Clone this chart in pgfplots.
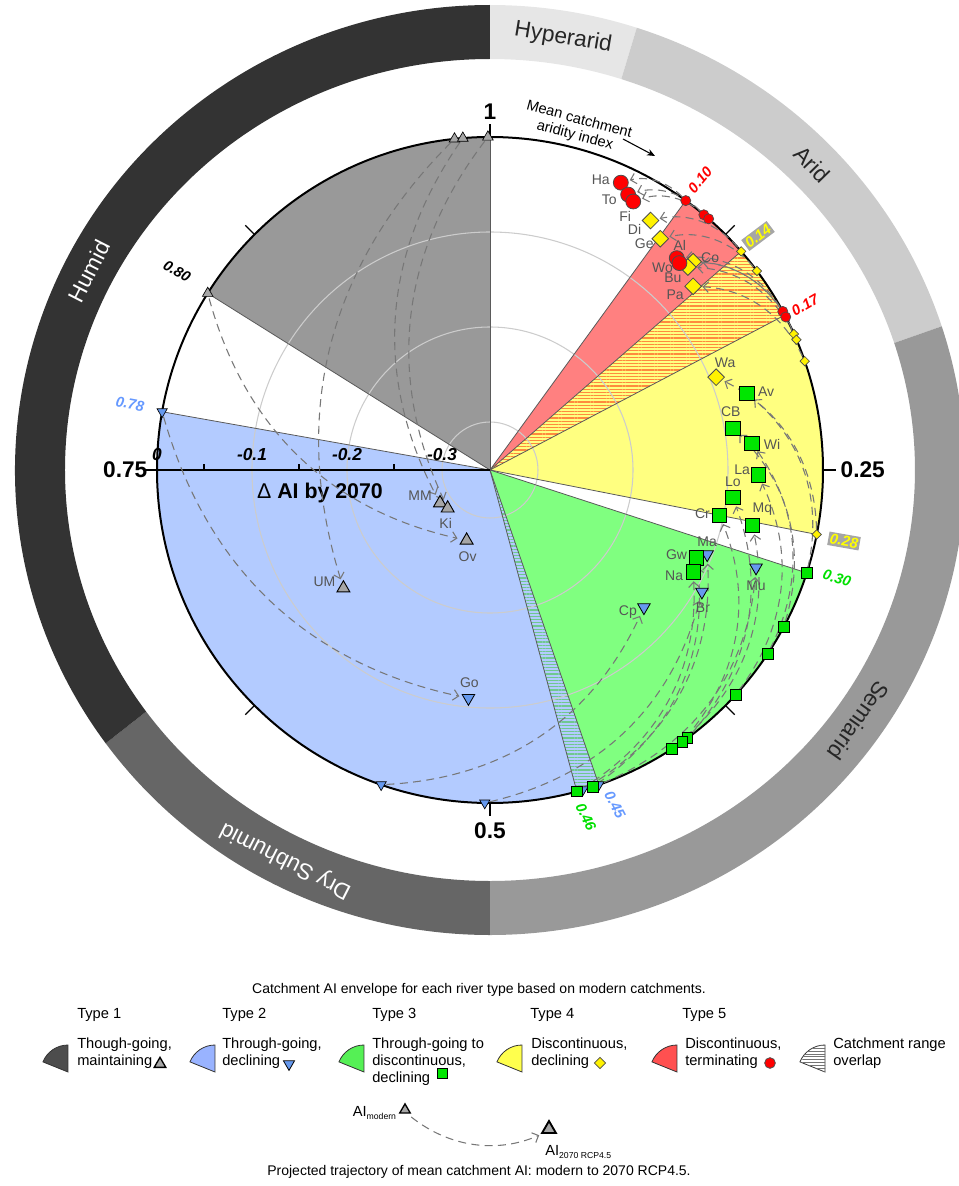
\documentclass[border=0pt]{standalone}
\usepackage{pgfplots}
\pgfplotsset{compat=1.18}
\usepackage{pgfplotstable}
\usetikzlibrary{arrows.meta,patterns.meta}
\usepackage{fontspec}
\setmainfont{Liberation Sans}

\definecolor{sOne}{HTML}{999999}
\definecolor{sTwo}{HTML}{B3CBFF}
\definecolor{sThree}{HTML}{80FF80}
\definecolor{sFour}{HTML}{FFFF80}
\definecolor{sFive}{HTML}{FF8080}
\definecolor{mOne}{HTML}{A6A6A6}
\definecolor{mTwo}{HTML}{6699EE}
\definecolor{mThree}{HTML}{00E600}
\definecolor{mFour}{HTML}{FFF200}
\definecolor{mFive}{HTML}{FF0000}
\definecolor{lOne}{HTML}{4D4D4D}
\definecolor{lTwo}{HTML}{99B3FF}
\definecolor{lThree}{HTML}{55F055}
\definecolor{lFour}{HTML}{FFFF4D}
\definecolor{lFive}{HTML}{FF5050}
\definecolor{lblgrey}{HTML}{555555}
\definecolor{trajgrey}{HTML}{777777}
\definecolor{edgegrey}{HTML}{5A5A5A}
\definecolor{gridgrey}{HTML}{CCCCCC}
\definecolor{rHyper}{HTML}{E6E6E6}
\definecolor{rArid}{HTML}{CCCCCC}
\definecolor{rSemi}{HTML}{999999}
\definecolor{rDry}{HTML}{666666}
\definecolor{rHumid}{HTML}{333333}
\definecolor{numblue}{HTML}{6699FF}
\definecolor{numgreen}{HTML}{00E000}
\definecolor{numyellow}{HTML}{FFFF00}
\definecolor{numred}{HTML}{FF0000}
\definecolor{boxgrey}{HTML}{A6A6A6}
\definecolor{hatchRY}{HTML}{FF8A3D}
\definecolor{hatchBG}{HTML}{70C890}

% a0 = modern mean catchment AI, a1 = AI 2070 RCP4.5, d = change in AI by 2070
% lx, ly = label offset (px) from the 2070 marker
\pgfplotstableread{
a0 a1 d lbl lx ly
0.100 0.068 -0.018 Ha -20 3
0.111 0.074 -0.026 To -19 -5
0.114 0.078 -0.030 Fi -8 -15
0.171 0.115 -0.053 Al 3 13
0.174 0.118 -0.055 Wo -17 -5
}\typeFive
\pgfplotstableread{
a0 a1 d lbl lx ly
0.136 0.091 -0.038 Di -16 -9
0.148 0.101 -0.048 Ge -16 -5
0.183 0.123 -0.044 Co 17 4
0.186 0.123 -0.052 Bu -15 -11
0.197 0.133 -0.062 Pa -18 -8
0.281 0.188 -0.093 Wa 9 14
}\typeFour
\pgfplotstableread{
a0 a1 d lbl lx ly
0.300 0.204 -0.068 Av 19 2
0.328 0.223 -0.091 CB -2 17
0.343 0.234 -0.073 Wi 20 -1
0.368 0.253 -0.068 La -16 5
0.399 0.268 -0.093 Lo 0 16
0.402 0.281 -0.104 Cr -17 2
0.408 0.283 -0.068 Mq 10 16
0.450 0.314 -0.114 Gw -20 3
0.458 0.324 -0.111 Na -19 -4
}\typeThree
\pgfplotstableread{
a0 a1 d lbl lx ly
0.447 0.306 -0.052 Mu 0 -18
0.455 0.309 -0.105 Ma 0 13
0.5025 0.333 -0.093 Br 1 -16
0.553 0.366 -0.133 Cp -16 -5
0.778 0.515 -0.109 Go 1 15
}\typeTwo
\pgfplotstableread{
a0 a1 d lbl lx ly
0.839 0.551 -0.272 Ov 1 -16
0.983 0.642 -0.152 UM -19 6
0.987 0.657 -0.287 MM -20 7
0.999 0.633 -0.290 Ki -2 -15
}\typeOne

\tikzset{traj/.style={draw=trajgrey, line width=0.8pt, dash pattern=on 6pt off 4pt,
  -{Straight Barb[length=4pt,width=8pt]}, shorten >=7pt, shorten <=4pt}}

\pgfplotsset{
  lbls/.style={only marks, mark=none, point meta=explicit symbolic, nodes near coords,
    every node near coord/.append style={anchor=center, text=lblgrey,
      font=\fontsize{10.5}{12}\selectfont, inner sep=0pt}},
}

\newcommand\sector[3]{\fill[#3] (0,0) -- ({90-360*#1}:333) arc[start angle={90-360*#1}, end angle={90-360*#2}, radius=333] -- cycle;}
\newcommand\ringseg[3]{\fill[#3] ({90-360*#1}:475 and 465) arc[start angle={90-360*#1}, end angle={90-360*#2}, x radius=475, y radius=465] -- ({90-360*#2}:425 and 411) arc[start angle={90-360*#2}, end angle={90-360*#1}, x radius=425, y radius=411] -- cycle;}
\newcommand\ringlabel[3]{\node[rotate={-360*#1}, text=#3, font=\fontsize{17}{20}\selectfont] at ({450*sin(360*#1)},{438*cos(360*#1)}) {#2};}
\newcommand\edge[1]{\draw[edgegrey, line width=0.6pt] (0,0) -- ({90-360*#1}:333);}
\newcommand\numlbl[5]{\node[rotate=#3, text=#4, #5, inner sep=1.2pt, font=\bfseries\itshape\fontsize{11}{13}\selectfont] at (#1) {#2};}

\newcommand\drawtrajectories[1]{%
  \pgfplotstablegetrowsof{#1}%
  \pgfmathtruncatemacro\trajN{\pgfplotsretval-1}%
  \foreach \i in {0,...,\trajN}{%
    \pgfplotstablegetelem{\i}{a0}\of{#1}\let\tA\pgfplotsretval
    \pgfplotstablegetelem{\i}{a1}\of{#1}\let\tB\pgfplotsretval
    \pgfplotstablegetelem{\i}{d}\of{#1}\let\tD\pgfplotsretval
    \pgfmathsetmacro\xa{333*sin(360*\tA)}%
    \pgfmathsetmacro\ya{333*cos(360*\tA)}%
    \pgfmathsetmacro\rb{951*(0.35+\tD)}%
    \pgfmathsetmacro\xb{\rb*sin(360*\tB)}%
    \pgfmathsetmacro\yb{\rb*cos(360*\tB)}%
    \edef\tmp{\noexpand\draw[traj] (\xa,\ya) to[bend right=31] (\xb,\yb);}%
    \tmp
  }}

\begin{document}
\begin{tikzpicture}[x=0.75pt,y=0.75pt]
\path[use as bounding box] (-490,-716) rectangle (469,470);

% outer climate ring
\ringseg{0}{0.05}{rHyper}
\ringseg{0.05}{0.2}{rArid}
\ringseg{0.2}{0.5}{rSemi}
\ringseg{0.5}{0.65}{rDry}
\ringseg{0.65}{1}{rHumid}
\ringlabel{0.026}{Hyperarid}{black!85}
\ringlabel{0.127}{Arid}{black!85}
\ringlabel{0.347}{Semiarid}{black!85}
\ringlabel{0.575}{Dry Subhumid}{white}
\ringlabel{0.825}{Humid}{white}

% envelopes
\sector{0.839}{1.0}{sOne}
\sector{0.447}{0.778}{sTwo}
\sector{0.300}{0.458}{sThree}
\sector{0.447}{0.458}{sTwo}
\sector{0.447}{0.458}{pattern={Lines[angle=0,distance=2.4pt,line width=1pt]}, pattern color=hatchBG}
\sector{0.136}{0.281}{sFour}
\sector{0.100}{0.173}{sFive}
\sector{0.136}{0.173}{sFour}
\sector{0.136}{0.173}{pattern={Lines[angle=0,distance=2.4pt,line width=0.95pt]}, pattern color=hatchRY}

% grid circles
\draw[gridgrey, line width=0.8pt] (0,0) circle[radius=238];
\draw[gridgrey, line width=0.8pt] (0,0) circle[radius=143];
\draw[gridgrey, line width=0.8pt] (0,0) circle[radius=48];

% envelope edges
\edge{0.100}\edge{0.136}\edge{0.173}\edge{0.281}\edge{0.300}
\edge{0.447}\edge{0.458}\edge{0.778}\edge{0.839}\edge{1.0}

% outer circle and ticks
\draw[black, line width=1.5pt] (0,0) circle[radius=333];
\foreach \k in {0,...,7}{\draw[black, line width=1pt] ({90-45*\k}:333) -- ({90-45*\k}:346);}

% radial axis
\draw[black, line width=1.2pt] (-340,0) -- (0,0);
\foreach \xx in {-286,-191,-96}{\draw[black, line width=0.9pt] (\xx,0) -- (\xx,6);}
\node[font=\bfseries\itshape\fontsize{13}{15}\selectfont] at (-333,15) {0};
\node[font=\bfseries\itshape\fontsize{13}{15}\selectfont] at (-238,15) {-0.1};
\node[font=\bfseries\itshape\fontsize{13}{15}\selectfont] at (-143,15) {-0.2};
\node[font=\bfseries\itshape\fontsize{13}{15}\selectfont] at (-48,15) {-0.3};
\node[font=\bfseries\fontsize{16}{19}\selectfont] at (-170,-23) {{\mdseries Δ} AI by 2070};

% AI labels round the circle
\node[font=\bfseries\fontsize{17}{20}\selectfont] at (0,358) {1};
\node[anchor=west, font=\bfseries\fontsize{17}{20}\selectfont] at (346,0) {0.25};
\node[anchor=east, font=\bfseries\fontsize{17}{20}\selectfont] at (-338,0) {0.75};
\node[font=\bfseries\fontsize{17}{20}\selectfont] at (0,-361) {0.5};
\node[rotate=-15, align=center, font=\fontsize{11}{12.5}\selectfont] at (87,342) {Mean catchment\\aridity index};
\draw[-{Stealth[length=6pt,width=5pt]}, line width=0.8pt] (133,331) -- (165,314);

\numlbl{210,290}{0.10}{50}{numred}{}
\numlbl{268,234}{0.14}{37}{numyellow}{fill=boxgrey}
\numlbl{315,165}{0.17}{30}{numred}{}
\numlbl{354,-71}{0.28}{-10}{numyellow}{fill=boxgrey}
\numlbl{347,-108}{0.30}{-17}{numgreen}{}
\numlbl{125,-335}{0.45}{-62}{numblue}{}
\numlbl{96,-347}{0.46}{-64}{numgreen}{}
\numlbl{-360,66}{0.78}{-10}{numblue}{}
\numlbl{-313,199}{0.80}{-30}{black}{}

% trajectories modern -> 2070 (drawn from the tables)
\drawtrajectories{\typeOne}
\drawtrajectories{\typeTwo}
\drawtrajectories{\typeThree}
\drawtrajectories{\typeFour}
\drawtrajectories{\typeFive}

\begin{axis}[at={(0,0)}, anchor=origin, x=0.75pt, y=0.75pt,
  xmin=-470, xmax=460, ymin=-700, ymax=460, hide axis, clip=false]
% modern positions (on the circle, radius 333 px)
\addplot[only marks, mark=triangle*, mark size=4.6pt, mark options={fill=mOne, draw=black, line width=0.5pt}]
  table[x expr={333*sin(360*\thisrow{a0})}, y expr={333*cos(360*\thisrow{a0})}] {\typeOne};
\addplot[only marks, mark=triangle*, mark size=4.4pt, mark options={rotate=180, fill=mTwo, draw=black, line width=0.5pt}]
  table[x expr={333*sin(360*\thisrow{a0})}, y expr={333*cos(360*\thisrow{a0})}] {\typeTwo};
\addplot[only marks, mark=square*, mark size=4pt, mark options={fill=mThree, draw=black, line width=0.5pt}]
  table[x expr={333*sin(360*\thisrow{a0})}, y expr={333*cos(360*\thisrow{a0})}] {\typeThree};
\addplot[only marks, mark=square*, mark size=2.5pt, mark options={rotate=45, fill=mFour, draw=black!70, line width=0.5pt}]
  table[x expr={333*sin(360*\thisrow{a0})}, y expr={333*cos(360*\thisrow{a0})}] {\typeFour};
\addplot[only marks, mark=*, mark size=3.8pt, mark options={fill=mFive, draw=black!70, line width=0.5pt}]
  table[x expr={333*sin(360*\thisrow{a0})}, y expr={333*cos(360*\thisrow{a0})}] {\typeFive};
% 2070 positions (951 px per unit of AI change, centre = -0.35)
\addplot[only marks, mark=triangle*, mark size=5.6pt, mark options={fill=mOne, draw=black, line width=0.7pt}]
  table[x expr={951*(0.35+\thisrow{d})*sin(360*\thisrow{a1})}, y expr={951*(0.35+\thisrow{d})*cos(360*\thisrow{a1})}] {\typeOne};
\addplot[only marks, mark=triangle*, mark size=5.4pt, mark options={rotate=180, fill=mTwo, draw=black, line width=0.6pt}]
  table[x expr={951*(0.35+\thisrow{d})*sin(360*\thisrow{a1})}, y expr={951*(0.35+\thisrow{d})*cos(360*\thisrow{a1})}] {\typeTwo};
\addplot[only marks, mark=square*, mark size=5.4pt, mark options={fill=mThree, draw=black, line width=0.6pt}]
  table[x expr={951*(0.35+\thisrow{d})*sin(360*\thisrow{a1})}, y expr={951*(0.35+\thisrow{d})*cos(360*\thisrow{a1})}] {\typeThree};
\addplot[only marks, mark=square*, mark size=4.4pt, mark options={rotate=45, fill=mFour, draw=black!70, line width=0.6pt}]
  table[x expr={951*(0.35+\thisrow{d})*sin(360*\thisrow{a1})}, y expr={951*(0.35+\thisrow{d})*cos(360*\thisrow{a1})}] {\typeFour};
\addplot[only marks, mark=*, mark size=5.6pt, mark options={fill=mFive, draw=black!70, line width=0.6pt}]
  table[x expr={951*(0.35+\thisrow{d})*sin(360*\thisrow{a1})}, y expr={951*(0.35+\thisrow{d})*cos(360*\thisrow{a1})}] {\typeFive};
% catchment labels
\addplot[lbls] table[x expr={951*(0.35+\thisrow{d})*sin(360*\thisrow{a1})+\thisrow{lx}}, y expr={951*(0.35+\thisrow{d})*cos(360*\thisrow{a1})+\thisrow{ly}}, meta=lbl] {\typeOne};
\addplot[lbls] table[x expr={951*(0.35+\thisrow{d})*sin(360*\thisrow{a1})+\thisrow{lx}}, y expr={951*(0.35+\thisrow{d})*cos(360*\thisrow{a1})+\thisrow{ly}}, meta=lbl] {\typeTwo};
\addplot[lbls] table[x expr={951*(0.35+\thisrow{d})*sin(360*\thisrow{a1})+\thisrow{lx}}, y expr={951*(0.35+\thisrow{d})*cos(360*\thisrow{a1})+\thisrow{ly}}, meta=lbl] {\typeThree};
\addplot[lbls] table[x expr={951*(0.35+\thisrow{d})*sin(360*\thisrow{a1})+\thisrow{lx}}, y expr={951*(0.35+\thisrow{d})*cos(360*\thisrow{a1})+\thisrow{ly}}, meta=lbl] {\typeFour};
\addplot[lbls] table[x expr={951*(0.35+\thisrow{d})*sin(360*\thisrow{a1})+\thisrow{lx}}, y expr={951*(0.35+\thisrow{d})*cos(360*\thisrow{a1})+\thisrow{ly}}, meta=lbl] {\typeFive};
% legend symbols
\addplot[only marks, mark=triangle*, mark size=5pt, mark options={fill=mOne, draw=black, line width=1pt}] coordinates {(-330,-594)};
\addplot[only marks, mark=triangle*, mark size=4.8pt, mark options={rotate=180, fill=mTwo, draw=black, line width=0.6pt}] coordinates {(-201,-594)};
\addplot[only marks, mark=square*, mark size=3.8pt, mark options={fill=mThree, draw=black, line width=0.6pt}] coordinates {(-48,-603)};
\addplot[only marks, mark=square*, mark size=3pt, mark options={rotate=45, fill=mFour, draw=black!70, line width=0.6pt}] coordinates {(110,-593)};
\addplot[only marks, mark=*, mark size=4pt, mark options={fill=mFive, draw=black!70, line width=0.6pt}] coordinates {(280,-593)};
\addplot[only marks, mark=triangle*, mark size=4.6pt, mark options={fill=mOne, draw=black, line width=1pt}] coordinates {(-85,-640)};
\addplot[only marks, mark=triangle*, mark size=6pt, mark options={fill=mOne, draw=black, line width=1.4pt}] coordinates {(59,-659)};
\end{axis}

% legend
\node[font=\fontsize{10.5}{12}\selectfont] at (-11,-520) {Catchment AI envelope for each river type based on modern catchments.};
\foreach \xx/\tt in {-413/Type 1, -268/Type 2, -118/Type 3, 40/Type 4, 192/Type 5}
  {\node[anchor=west, inner sep=0pt, font=\fontsize{11}{13}\selectfont] at (\xx,-545) {\tt};}
\newcommand\legwedge[2]{\draw[black!80, line width=0.6pt, #2] (#1,-602) -- (#1,-575) arc[start angle=90, end angle=158, radius=27] -- cycle;}
\legwedge{-422}{fill=lOne}
\legwedge{-275}{fill=lTwo}
\legwedge{-126}{fill=lThree}
\legwedge{32}{fill=lFour}
\legwedge{187}{fill=lFive}
\legwedge{335}{fill=white}
\fill[pattern={Lines[angle=0,distance=2.2pt,line width=0.7pt]}, pattern color=black!55] (335,-602) -- (335,-575) arc[start angle=90, end angle=158, radius=27] -- cycle;
\begin{scope}[every node/.style={anchor=north west, align=left, inner sep=0pt, font=\fontsize{11}{12.7}\selectfont}]
\node at (-413,-568) {Though-going,\\maintaining};
\node at (-268,-568) {Through-going,\\declining};
\node at (-118,-568) {Through-going to\\discontinuous,\\declining};
\node at (41,-568) {Discontinuous,\\declining};
\node at (195,-568) {Discontinuous,\\terminating};
\node at (343,-568) {Catchment range\\overlap};
\end{scope}
\draw[traj, shorten <=6pt, shorten >=8pt] (-85,-642) to[bend right=31] (59,-661);
\node[anchor=east, inner sep=0pt, font=\fontsize{11}{13}\selectfont] at (-93,-643) {AI\textsubscript{\fontsize{6.5}{7}\selectfont modern}};
\node[anchor=west, inner sep=0pt, font=\fontsize{11}{13}\selectfont] at (55,-682) {AI\textsubscript{\fontsize{6.5}{7}\selectfont 2070 RCP4.5}};
\node[font=\fontsize{10.5}{12}\selectfont] at (-11,-702) {Projected trajectory of mean catchment AI: modern to 2070 RCP4.5.};
\end{tikzpicture}
\end{document}
